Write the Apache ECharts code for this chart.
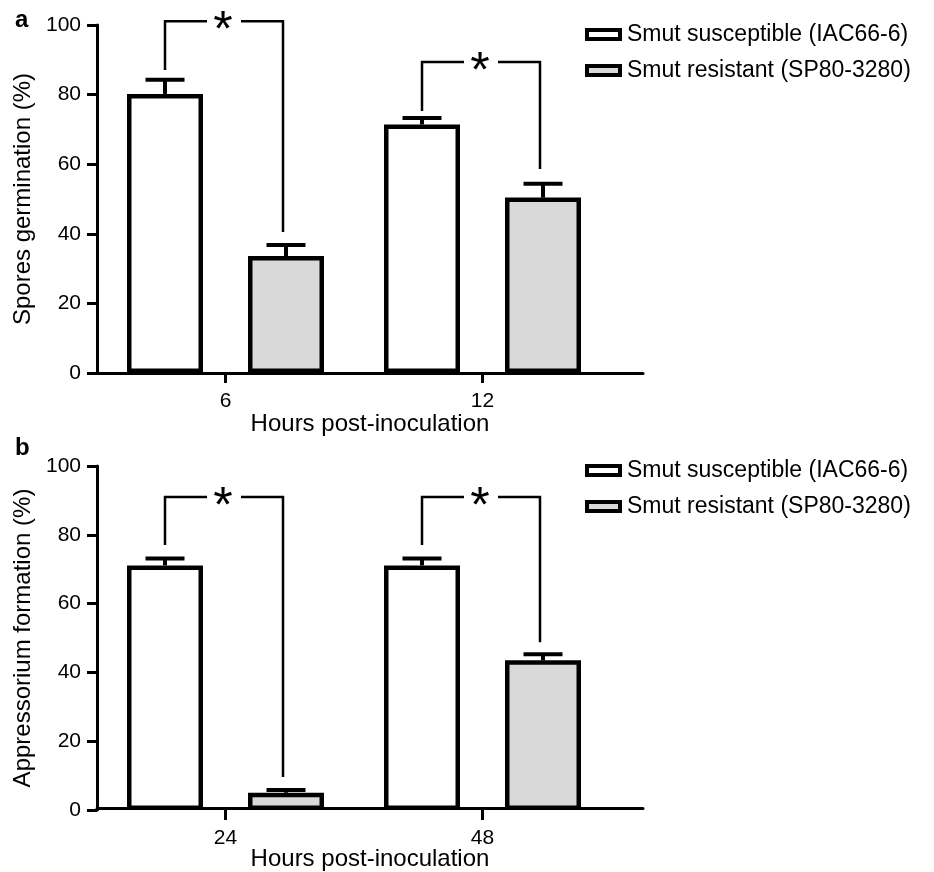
<!DOCTYPE html>
<html>
<head>
<meta charset="utf-8">
<script src="https://cdn.jsdelivr.net/npm/echarts@6/dist/echarts.min.js"></script>
<style>
  html, body { margin: 0; padding: 0; background: #fff; }
  #chart { width: 934px; height: 872px; }
</style>
</head>
<body>
<div id="chart"></div>
<script>
// panel a: spore germination
const catsA = ["6", "12"];
const suscA = [80.2, 71.4];
const suscErrA = [4.1, 1.9];
const resA = [33.6, 50.4];
const resErrA = [3.2, 4.0];
// bracket: [top, left leg bottom, right leg bottom]
const bracketA = [[101.1, 87.1, 40.5], [89.4, 75.3, 58.6]];

// panel b: appressorium formation
const catsB = ["24", "48"];
const suscB = [71.1, 71.1];
const suscErrB = [2.0, 2.0];
const resB = [5.0, 43.5];
const resErrB = [0.8, 1.8];
const bracketB = [[91, 77, 9.6], [91, 77, 48.8]];

const yTicks = [0, 20, 40, 60, 80, 100];

const FONT = "Liberation Sans, Arial, sans-serif";
const GRAY = "#d9d9d9";
const BAR_W = 76;
const BAR_GAP = 45;
const OFF = (BAR_W + BAR_GAP) / 2;

const chart = echarts.init(document.getElementById("chart"));

function barSeries(name, data, color, xi) {
  return {
    name: name,
    type: "bar",
    xAxisIndex: xi,
    yAxisIndex: xi,
    data: data,
    barWidth: BAR_W,
    barGap: (BAR_GAP / BAR_W * 100) + "%",
    itemStyle: { color: color, borderColor: "#000", borderWidth: 4.5 },
    silent: true,
    z: 2
  };
}

function errSeries(means, errs, side, xi) {
  return {
    type: "custom",
    xAxisIndex: xi,
    yAxisIndex: xi,
    clip: false,
    silent: true,
    z: 3,
    data: means.map((m, i) => [i, m, m + errs[i]]),
    renderItem: function (params, api) {
      const p0 = api.coord([api.value(0), api.value(1)]);
      const p1 = api.coord([api.value(0), api.value(2)]);
      const x = p0[0] + side * OFF;
      const st = { stroke: "#000", lineWidth: 4, fill: null };
      return {
        type: "group",
        children: [
          { type: "line", shape: { x1: x, y1: p0[1], x2: x, y2: p1[1] }, style: st },
          { type: "line", shape: { x1: x - 19.5, y1: p1[1], x2: x + 19.5, y2: p1[1] }, style: st }
        ]
      };
    }
  };
}

function bracketSeries(br, xi) {
  return {
    type: "custom",
    xAxisIndex: xi,
    yAxisIndex: xi,
    clip: false,
    silent: true,
    z: 4,
    data: br.map((b, i) => [i].concat(b)),
    renderItem: function (params, api) {
      const c = api.coord([api.value(0), api.value(1)]);
      const yl = api.coord([api.value(0), api.value(2)])[1];
      const yr = api.coord([api.value(0), api.value(3)])[1];
      const xl = c[0] - OFF;
      const xr = c[0] + OFF - 3;
      const xm = (xl + xr) / 2;
      const st = { stroke: "#000", lineWidth: 2.5, fill: null };
      return {
        type: "group",
        children: [
          { type: "polyline", shape: { points: [[xl, yl], [xl, c[1]], [xm - 17, c[1]]] }, style: st },
          { type: "polyline", shape: { points: [[xm + 17, c[1]], [xr, c[1]], [xr, yr]] }, style: st },
          {
            type: "text",
            style: {
              text: "*", x: xm - 1, y: c[1] + 11, fill: "#000",
              font: "50px " + FONT, textAlign: "center", textVerticalAlign: "middle"
            }
          }
        ]
      };
    }
  };
}

function catAxis(cats, gi) {
  return {
    type: "category",
    gridIndex: gi,
    data: cats,
    axisLine: { show: false },
    axisTick: { show: true, alignWithLabel: true, length: 10, lineStyle: { color: "#000", width: 3 } },
    axisLabel: { color: "#000", fontSize: 21, fontFamily: FONT, margin: 18 }
  };
}

function lineAxis(gi) {
  return {
    type: "value",
    gridIndex: gi,
    min: 0,
    max: 1,
    axisLine: { show: true, lineStyle: { color: "#000", width: 3 } },
    axisTick: { show: false },
    axisLabel: { show: false },
    splitLine: { show: false },
    name: "Hours post-inoculation",
    nameLocation: "middle",
    nameGap: 39,
    nameTextStyle: { color: "#000", fontSize: 24, fontFamily: FONT }
  };
}

function valAxis(name, gi) {
  return {
    type: "value",
    gridIndex: gi,
    min: 0,
    max: 100,
    interval: 20,
    axisLine: { show: true, lineStyle: { color: "#000", width: 3 } },
    axisTick: { show: true, length: 10, lineStyle: { color: "#000", width: 3 } },
    axisLabel: {
      color: "#000", fontSize: 21, fontFamily: FONT, margin: 16,
      formatter: v => (yTicks.indexOf(v) >= 0 ? String(v) : "")
    },
    splitLine: { show: false },
    name: name,
    nameLocation: "middle",
    nameRotate: 90,
    nameGap: 60,
    nameTextStyle: { color: "#000", fontSize: 24, fontFamily: FONT }
  };
}

function hiddenAxis(gi) {
  return { type: "value", gridIndex: gi, min: 0, max: 1, show: false };
}

function legend(top) {
  return {
    left: 580,
    top: top,
    orient: "vertical",
    icon: "rect",
    itemWidth: 33,
    itemHeight: 9,
    itemGap: 13,
    selectedMode: false,
    itemStyle: { borderColor: "#000", borderWidth: 4 },
    textStyle: { color: "#000", fontSize: 23, fontFamily: FONT, padding: [0, 0, 0, 2] },
    data: ["Smut susceptible (IAC66-6)", "Smut resistant (SP80-3280)"]
  };
}

chart.setOption({
  animation: false,
  backgroundColor: "#fff",
  grid: [
    { left: 97, top: 25, width: 514, height: 348 },
    { left: 97, top: 25, width: 546, height: 348 },
    { left: 97, top: 466, width: 514, height: 344 },
    { left: 97, top: 466, width: 546, height: 344 }
  ],
  xAxis: [catAxis(catsA, 0), lineAxis(1), catAxis(catsB, 2), lineAxis(3)],
  yAxis: [valAxis("Spores germination (%)", 0), hiddenAxis(1), valAxis("Appressorium formation (%)", 2), hiddenAxis(3)],
  legend: [legend(18), legend(454)],
  graphic: [
    { type: "text", left: 15, top: 8, style: { text: "a", font: "bold 24px " + FONT, fill: "#000" } },
    { type: "text", left: 15, top: 436, style: { text: "b", font: "bold 24px " + FONT, fill: "#000" } }
  ],
  series: [
    barSeries("Smut susceptible (IAC66-6)", suscA, "#fff", 0),
    barSeries("Smut resistant (SP80-3280)", resA, GRAY, 0),
    errSeries(suscA, suscErrA, -1, 0),
    errSeries(resA, resErrA, 1, 0),
    bracketSeries(bracketA, 0),
    barSeries("Smut susceptible (IAC66-6)", suscB, "#fff", 2),
    barSeries("Smut resistant (SP80-3280)", resB, GRAY, 2),
    errSeries(suscB, suscErrB, -1, 2),
    errSeries(resB, resErrB, 1, 2),
    bracketSeries(bracketB, 2)
  ]
});
</script>
</body>
</html>
